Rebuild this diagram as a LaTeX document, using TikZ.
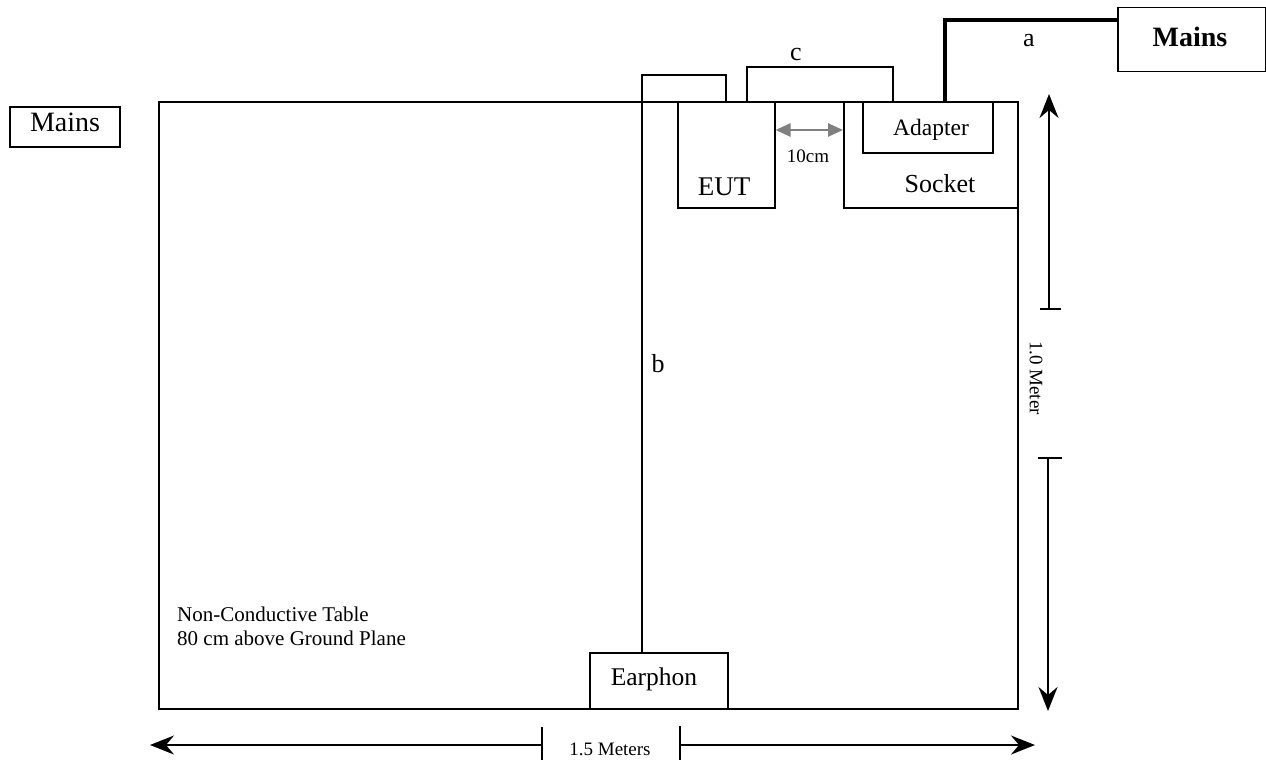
\documentclass[tikz,border=0pt]{standalone}
\usepackage{fontspec}
\setmainfont{Liberation Serif}
\usetikzlibrary{arrows.meta}
\newcommand\myfs[1]{\fontsize{#1}{#1}\selectfont}
\begin{document}
\begin{tikzpicture}[x=1pt,y=-1pt,
  box/.style={draw, line width=1.5pt, inner sep=0pt, anchor=north west},
  lbl/.style={inner sep=0pt, anchor=base},
  cable/.style={line width=1.5pt},
  thickcable/.style={line width=3.2pt},
  dimarrow/.style={line width=1.8pt, -{Stealth[length=24pt,width=19pt,inset=8pt]}},
  tickline/.style={line width=1.8pt},
  gaparrow/.style={draw={rgb,255:red,128;green,128;blue,128}, line width=2.5pt, {Triangle[length=15pt,width=13pt]}-{Triangle[length=15pt,width=13pt]}},
]
\useasboundingbox (0,0) rectangle (1266,760);

% boxes
\node[box, minimum width=859pt, minimum height=607pt] (table) at (158,101) {};
\node[box, minimum width=97pt, minimum height=106pt] (eut) at (677,101) {};
\node[box, minimum width=174pt, minimum height=106pt] (socket) at (843,101) {};
\node[box, minimum width=130pt, minimum height=51pt] (adapter) at (862,101) {};
\node[box, minimum width=138pt, minimum height=56pt] (earph) at (589,652) {};
\node[box, minimum width=110pt, minimum height=40pt] (mainsL) at (9,106) {};
\node[box, minimum width=148pt, minimum height=64pt] (mainsR) at (1117,7) {};

% texts
\node[lbl, font=\myfs{27}] (eutlbl) at (724,195) {EUT};
\node[lbl, font=\myfs{26}] (socketlbl) at (940,192) {Socket};
\node[lbl, font=\myfs{23.5}] (adapterlbl) at (931,135) {Adapter};
\node[lbl, font=\myfs{25.5}] (earphlbl) at (654,685) {Earphon};
\node[lbl, font=\myfs{28}] (mainsLlbl) at (65,131) {Mains};
\node[lbl, font=\myfs{28}\bfseries] (mainsRlbl) at (1190,47) {Mains};
\node[lbl, font=\myfs{19}] (tencm) at (808,162) {10cm};
\node[lbl, font=\myfs{26}] (alabel) at (1029,47) {a};
\node[lbl, font=\myfs{26}] (blabel) at (658,372) {b};
\node[lbl, font=\myfs{26}] (clabel) at (796,60) {c};
\node[inner sep=0pt, anchor=base west, align=left, font=\fontsize{21}{24}\selectfont] (tabletxt) at (177,645)
  {Non-Conductive Table\\80 cm above Ground Plane};

% cables
\coordinate (bTop) at (0,75);
\coordinate (cTop) at (0,67);
\coordinate (aTop) at (0,20);
\coordinate (bStart) at ([xshift=53pt]earph.north west);
\coordinate (bEnd) at ([xshift=49pt]eut.north west);
\draw[cable] (bStart) -- (bStart |- bTop) -- (bEnd |- bTop) -- (bEnd);
\coordinate (cStart) at ([xshift=70pt]eut.north west);
\coordinate (cEnd) at ([xshift=31pt]adapter.north west);
\draw[cable] (cStart) -- (cStart |- cTop) -- (cEnd |- cTop) -- (cEnd);
\coordinate (aStart) at ([xshift=83pt]adapter.north west);
\coordinate (aEnd) at ([yshift=-13pt]mainsR.north west);
\draw[thickcable] (aStart) -- (aStart |- aEnd) -- (aEnd);

% 10cm gap arrow
\draw[gaparrow] ([yshift=-29pt]eut.north east) -- ([yshift=-29pt]socket.north west);

% vertical dimension
\coordinate (vTip1) at (1049,94);
\coordinate (vTick1) at (1049,309);
\coordinate (vTick2) at (1048,458);
\coordinate (vTip2) at (1048,711);
\draw[dimarrow] (vTick1) -- (vTip1);
\draw[tickline] (1040,309) -- (1061,309);
\draw[dimarrow] (vTick2) -- (vTip2);
\draw[tickline] (1038,458) -- (1062,458);
\node[inner sep=0pt, rotate=-90, font=\myfs{19}] (meter) at (1036,378) {1.0 Meter};

% horizontal dimension
\coordinate (hTip1) at (150,745);
\coordinate (hTick1) at (542,745);
\coordinate (hTick2) at (680,745);
\coordinate (hTip2) at (1035,745);
\draw[dimarrow] (hTick1) -- (hTip1);
\draw[tickline] (542,727) -- (542,760);
\draw[dimarrow] (hTick2) -- (hTip2);
\draw[tickline] (680,726) -- (680,760);
\node[lbl, font=\myfs{19}] (meters) at (610,755) {1.5 Meters};
\end{tikzpicture}
\end{document}
